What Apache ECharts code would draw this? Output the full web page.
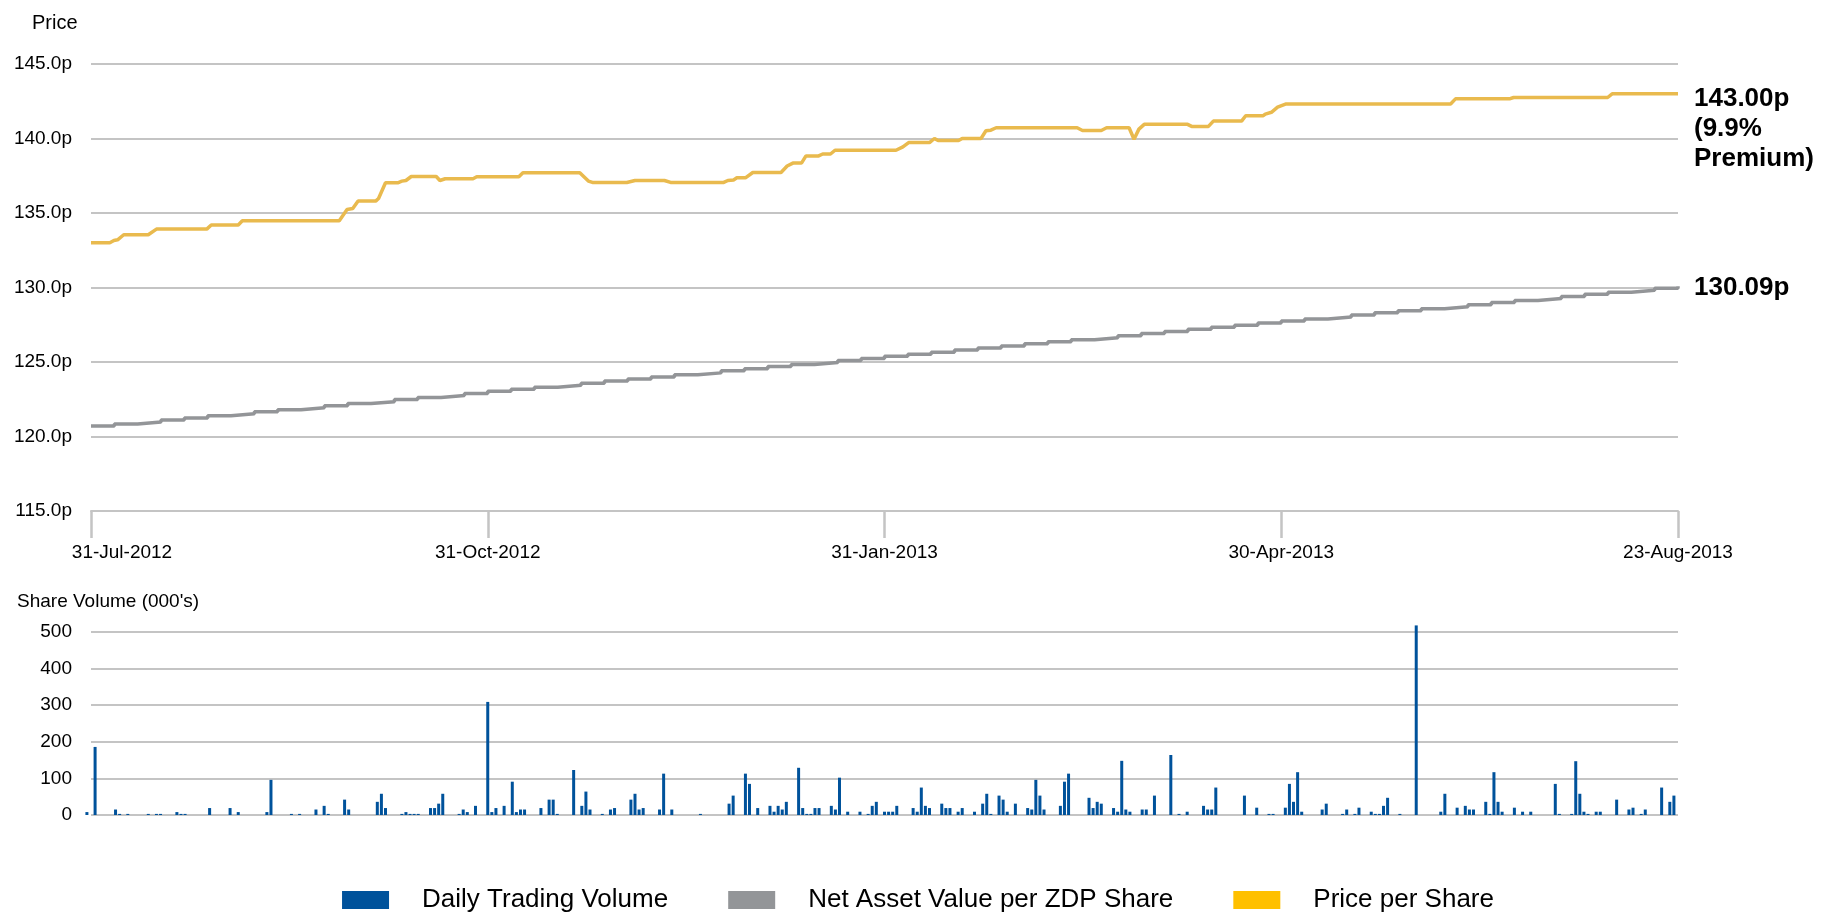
<!DOCTYPE html>
<html>
<head>
<meta charset="utf-8">
<script src="https://cdn.jsdelivr.net/npm/echarts@6/dist/echarts.min.js"></script>
<style>
html,body{margin:0;padding:0;background:#fff;}
#chart{width:1836px;height:913px;}
</style>
</head>
<body>
<div id="chart"></div>
<script>
// ---- Data ----
// x axis: calendar day index from 31-Jul-2012 (0) to 23-Aug-2013 (388)
var tickLabels = ['31-Jul-2012', '31-Oct-2012', '31-Jan-2013', '30-Apr-2013', '23-Aug-2013'];
var seriesNames = ['Daily Trading Volume', 'Net Asset Value per ZDP Share', 'Price per Share'];

// Price per Share: [day, pence] at visible break points of the line
var pricePoints = [
  [0,133.0],[4.6,133.0],[5.6,133.15],[6.5,133.2],[8,133.54],[14,133.54],[16,133.92],[28.3,133.92],
  [29.4,134.2],[36,134.2],[37,134.48],[60.7,134.48],[62.6,135.23],[64,135.3],[65.3,135.8],[69.6,135.8],
  [70.3,135.97],[72,137.03],[75,137.03],[76,137.14],[77,137.18],[78.3,137.45],[84.4,137.45],[85.3,137.18],
  [86.6,137.3],[93.4,137.3],[94.3,137.43],[104.6,137.43],[105.6,137.7],[119.5,137.7],[121.6,137.14],
  [122.6,137.05],[131,137.05],[133,137.18],[140.2,137.18],[141.7,137.05],[154.7,137.05],[155.7,137.18],
  [157.1,137.22],[157.9,137.36],[160,137.36],[161.8,137.72],[168.7,137.72],[170.2,138.15],[171.6,138.35],
  [173.7,138.35],[174.8,138.83],[177.9,138.83],[178.9,138.96],[180.8,138.96],[181.9,139.21],[196.8,139.21],
  [198.5,139.44],[199.9,139.73],[205,139.73],[206.2,140.0],[207.1,139.86],[212.1,139.86],[213,140.0],
  [217.6,140.0],[218.8,140.52],[220,140.56],[221.3,140.72],[241.1,140.72],[242.4,140.54],[247,140.54],
  [248.3,140.72],[253.8,140.72],[255,139.95],[256.2,140.63],[257.5,140.95],[268.1,140.95],[269.1,140.81],
  [273.2,140.81],[274.4,141.17],[281.3,141.17],[282.3,141.53],[286.6,141.53],[287.1,141.64],[288.6,141.76],
  [290.1,142.1],[292.2,142.32],[332.4,142.32],[333.6,142.66],[346.8,142.66],[347.8,142.75],[370.8,142.75],
  [371.9,143.0],[388,143.0]
];

// Net Asset Value per ZDP Share: level of each step of the staircase (evenly spaced steps)
var navValues = [
  120.70,120.84,120.97,121.11,121.25,121.39,121.52,121.66,121.80,121.93,122.07,122.21,122.34,122.48,
  122.62,122.75,122.89,123.03,123.17,123.31,123.44,123.58,123.72,123.86,124.00,124.14,124.27,124.41,
  124.55,124.69,124.83,124.96,125.10,125.24,125.38,125.52,125.66,125.80,125.94,126.08,126.22,126.36,
  126.50,126.63,126.77,126.91,127.05,127.19,127.33,127.47,127.61,127.75,127.89,128.02,128.16,128.30,
  128.44,128.58,128.71,128.85,128.99,129.13,129.26,129.40,129.54,129.68,129.81,129.95,130.09
];

// Daily Trading Volume (000's): [day, volume] for days with trades
var volumePoints = [
  [-1,8],[1,186],[6,15],[7,3],[9,3],[14,3],[16,3],[17,3],[21,8],[22,3],[23,3],[29,19],[34,19],[36,8],
  [43,8],[44,96],[49,3],[51,3],[55,15],[57,25],[58,3],[62,42],[63,15],[70,36],[71,58],[72,19],[76,3],
  [77,8],[78,3],[79,3],[80,3],[83,19],[84,19],[85,31],[86,58],[90,3],[91,15],[92,8],[94,25],[97,309],
  [98,8],[99,19],[101,25],[103,91],[104,8],[105,15],[106,15],[110,19],[112,42],[113,42],[114,3],[118,123],
  [120,25],[121,64],[122,15],[125,3],[127,15],[128,19],[132,42],[133,58],[134,15],[135,19],[139,15],
  [140,113],[142,15],[149,3],[156,31],[157,53],[160,113],[161,85],[163,19],[166,25],[167,9],[168,25],
  [169,15],[170,36],[173,129],[174,19],[175,3],[176,3],[177,19],[178,19],[181,25],[182,15],[183,102],
  [185,9],[188,9],[190,3],[191,25],[192,36],[194,9],[195,9],[196,9],[197,25],[201,19],[202,9],[203,75],
  [204,25],[205,19],[208,31],[209,19],[210,19],[212,9],[213,19],[216,9],[218,31],[219,58],[220,3],
  [222,53],[223,42],[224,9],[226,31],[229,19],[230,15],[231,96],[232,53],[233,15],[237,25],[238,91],
  [239,113],[244,47],[245,19],[246,36],[247,31],[250,19],[251,9],[252,148],[253,15],[254,9],[257,15],
  [258,15],[260,53],[264,164],[266,3],[268,9],[272,25],[273,15],[274,15],[275,75],[282,53],[285,20],
  [288,3],[289,3],[292,20],[293,85],[294,36],[295,117],[296,9],[301,15],[302,31],[306,3],[307,15],
  [309,3],[310,20],[313,9],[314,3],[315,3],[316,25],[317,47],[320,3],[324,518],[330,9],[331,58],
  [334,20],[336,25],[337,15],[338,15],[341,36],[342,3],[343,117],[344,36],[345,9],[348,20],[350,9],
  [352,9],[358,85],[359,3],[362,3],[363,147],[364,58],[365,9],[366,3],[368,9],[369,9],[373,42],
  [376,15],[377,20],[379,3],[380,15],[384,75],[386,36],[387,53]
];

// ---- Chart ----
var FONT = "'Liberation Sans', Arial, sans-serif";
var GRID_C = '#C4C4C4';
var lastPrice = pricePoints[pricePoints.length - 1][1];
var lastNav = navValues[navValues.length - 1];
var premium = ((lastPrice / lastNav - 1) * 100).toFixed(1);

var chart = echarts.init(document.getElementById('chart'), null, {renderer: 'canvas'});
var option = {
  animation: false,
  backgroundColor: '#ffffff',
  textStyle: {fontFamily: FONT, color: '#000'},
  title: [
    {text: 'Price', left: 27, top: 8, textStyle: {fontFamily: FONT, fontSize: 20, fontWeight: 'normal', color: '#000'}},
    {text: "Share Volume (000's)", left: 12, top: 587, textStyle: {fontFamily: FONT, fontSize: 19, fontWeight: 'normal', color: '#000'}}
  ],
  legend: {
    top: 882, left: 'center',
    itemWidth: 47, itemHeight: 18, itemGap: 60,
    icon: 'rect',
    textStyle: {fontFamily: FONT, fontSize: 26, color: '#000', padding: [0, 0, 0, 28]},
    data: [
      {name: seriesNames[0], itemStyle: {color: '#00529B'}},
      {name: seriesNames[1], itemStyle: {color: '#939598'}},
      {name: seriesNames[2], itemStyle: {color: '#FFC000'}}
    ]
  },
  grid: [
    {left: 91, right: 158, top: 64, height: 447},
    {left: 91, right: 158, top: 632, height: 183}
  ],
  xAxis: [
    {
      gridIndex: 0, type: 'value', min: 0, max: 388, interval: 97,
      axisLine: {show: true, lineStyle: {color: GRID_C, width: 2}},
      axisTick: {show: true, length: 27, lineStyle: {color: GRID_C, width: 2.5}},
      splitLine: {show: false},
      axisLabel: {
        margin: 32, fontSize: 19, color: '#000', fontFamily: FONT,
        showMinLabel: true, showMaxLabel: true,
        formatter: function (v) {
          var i = Math.round(v / 97);
          return i === 0 ? '{first|' + tickLabels[i] + '}' : tickLabels[i];
        },
        rich: {first: {fontSize: 19, color: '#000', fontFamily: FONT, padding: [0, 0, 0, 62]}}
      }
    },
    {
      gridIndex: 0, type: 'category', boundaryGap: false, show: false,
      data: navValues.map(function (_, i) { return i; })
    },
    {gridIndex: 1, type: 'value', min: 0, max: 388, show: false}
  ],
  yAxis: [
    {
      gridIndex: 0, type: 'value', min: 115, max: 145, interval: 5,
      axisLine: {show: false}, axisTick: {show: false},
      splitLine: {lineStyle: {color: GRID_C, width: 2}},
      axisLabel: {fontSize: 19, color: '#000', margin: 19, fontFamily: FONT,
        formatter: function (v) { return v.toFixed(1) + 'p'; }}
    },
    {
      gridIndex: 1, type: 'value', min: 0, max: 500, interval: 100,
      axisLine: {show: false}, axisTick: {show: false},
      splitLine: {lineStyle: {color: GRID_C, width: 2}},
      axisLabel: {fontSize: 19, color: '#000', margin: 19, fontFamily: FONT}
    }
  ],
  series: [
    {
      name: seriesNames[0], type: 'bar', xAxisIndex: 2, yAxisIndex: 1,
      data: volumePoints, barWidth: 3, clip: false,
      itemStyle: {color: '#00529B'}
    },
    {
      name: seriesNames[1], type: 'line', xAxisIndex: 1, yAxisIndex: 0,
      data: navValues, step: 'end', showSymbol: false,
      lineStyle: {color: '#939598', width: 3.5}, itemStyle: {color: '#939598'},
      endLabel: {show: true, distance: 16, offset: [0, 2], fontFamily: FONT, fontSize: 26, fontWeight: 'bold', color: '#000',
        formatter: function () { return lastNav.toFixed(2) + 'p'; }}
    },
    {
      name: seriesNames[2], type: 'line', xAxisIndex: 0, yAxisIndex: 0,
      data: pricePoints, showSymbol: false,
      lineStyle: {color: '#E9BA4E', width: 3.5}, itemStyle: {color: '#E9BA4E'},
      endLabel: {show: true, distance: 16, fontFamily: FONT, fontSize: 26, fontWeight: 'bold', color: '#000',
        lineHeight: 30, offset: [0, 35],
        formatter: function () { return lastPrice.toFixed(2) + 'p\n(' + premium + '%\nPremium)'; }}
    }
  ]
};
chart.setOption(option);
</script>
</body>
</html>
